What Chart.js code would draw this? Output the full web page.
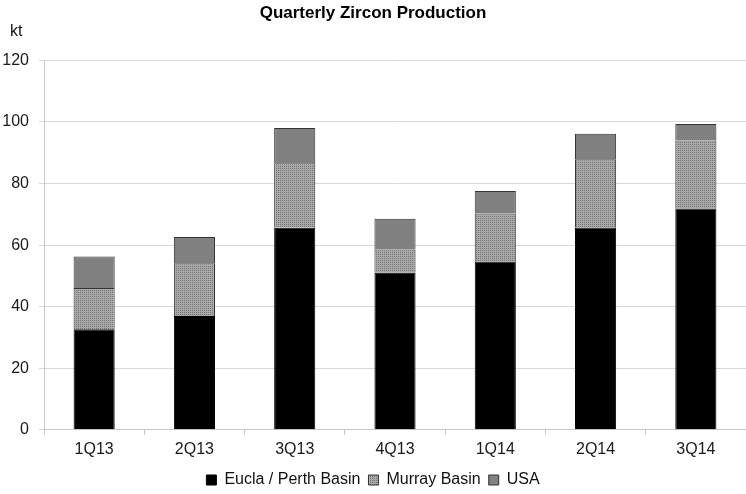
<!DOCTYPE html>
<html>
<head>
<meta charset="utf-8">
<script src="https://cdn.jsdelivr.net/npm/chart.js@4/dist/chart.umd.min.js"></script>
<style>
  html, body { margin: 0; padding: 0; background: #fff; }
  #wrap { width: 746px; height: 494px; }
</style>
</head>
<body>
<div id="wrap"><canvas id="chart" width="746" height="494"></canvas></div>
<script>
const quarters = ['1Q13', '2Q13', '3Q13', '4Q13', '1Q14', '2Q14', '3Q14'];
const euclaPerth = [32.7, 37.0, 65.6, 51.0, 54.7, 65.7, 71.9];
const murrayBasin = [13.4, 17.1, 21.0, 7.6, 15.6, 22.2, 22.1];
const usa = [10.2, 8.5, 11.4, 10.0, 7.3, 8.3, 5.3];
const yTicks = [0, 20, 40, 60, 80, 100, 120];

const FONT = '"Liberation Sans", Arial, sans-serif';

// dotted fill like the Excel pattern used for Murray Basin
function dotPattern() {
  const c = document.createElement('canvas');
  c.width = 4; c.height = 4;
  const g = c.getContext('2d');
  g.fillStyle = '#a9a9a9';
  g.fillRect(0, 0, 4, 4);
  g.fillStyle = '#737373';
  g.fillRect(0, 0, 1, 1);
  g.fillRect(2, 2, 1, 1);
  g.fillRect(2, 0, 1, 1);
  g.fillRect(0, 2, 1, 1);
  return g.createPattern(c, 'repeat');
}

const ktLabel = {
  id: 'ktLabel',
  afterDraw(chart) {
    const ctx = chart.ctx;
    ctx.save();
    ctx.font = '16px ' + FONT;
    ctx.fillStyle = '#111';
    ctx.textAlign = 'left';
    ctx.textBaseline = 'middle';
    ctx.fillText('kt', 10, 32);
    ctx.restore();
  }
};

// legend box a bit shorter so the plot sits lower, like the original
const tightLegend = {
  id: 'tightLegend',
  beforeLayout(chart) {
    const lg = chart.legend;
    if (!lg || lg._tight) return;
    const origFit = lg.fit;
    lg.fit = function () {
      origFit.call(this);
      this.height -= 4;
    };
    lg._tight = true;
  }
};

const ctx = document.getElementById('chart').getContext('2d');
const murrayFill = dotPattern();

new Chart(ctx, {
  type: 'bar',
  data: {
    labels: quarters,
    datasets: [
      {
        label: 'Eucla / Perth Basin',
        data: euclaPerth,
        backgroundColor: '#000000',
        borderColor: '#000000',
        borderWidth: 1,
      },
      {
        label: 'Murray Basin',
        data: murrayBasin,
        backgroundColor: murrayFill,
        borderColor: '#333333',
        borderWidth: 1,
      },
      {
        label: 'USA',
        data: usa,
        backgroundColor: '#808080',
        borderColor: '#333333',
        borderWidth: 1,
      },
    ],
  },
  options: {
    responsive: false,
    animation: false,
    layout: { padding: { left: 0, right: 0, top: 3, bottom: 0 } },
    datasets: { bar: { barPercentage: 0.41, categoryPercentage: 1.0 } },
    plugins: {
      title: {
        display: true,
        text: 'Quarterly Zircon Production',
        color: '#000',
        font: { family: FONT, size: 17, weight: 'bold' },
        padding: { top: 0, bottom: 37 },
      },
      legend: {
        position: 'bottom',
        labels: {
          color: '#111',
          font: { family: FONT, size: 16 },
          boxWidth: 10,
          boxHeight: 10,
          padding: 8,
        },
      },
      tooltip: { enabled: false },
    },
    scales: {
      x: {
        stacked: true,
        offset: true,
        grid: {
          offset: true,
          drawOnChartArea: false,
          color: '#c8c8c8',
          tickLength: 5,
        },
        border: { color: '#c8c8c8' },
        ticks: { color: '#1a1a1a', font: { family: FONT, size: 16 }, padding: 5 },
      },
      y: {
        stacked: true,
        min: 0,
        max: 120,
        afterBuildTicks: (axis) => { axis.ticks = yTicks.map(v => ({ value: v })); },
        afterFit: (axis) => { axis.width = 44; },
        grid: { color: '#d9d9d9', tickLength: 5 },
        border: { color: '#c8c8c8' },
        ticks: { color: '#1a1a1a', font: { family: FONT, size: 16 }, padding: 10 },
      },
    },
  },
  plugins: [ktLabel, tightLegend],
});
</script>
</body>
</html>
